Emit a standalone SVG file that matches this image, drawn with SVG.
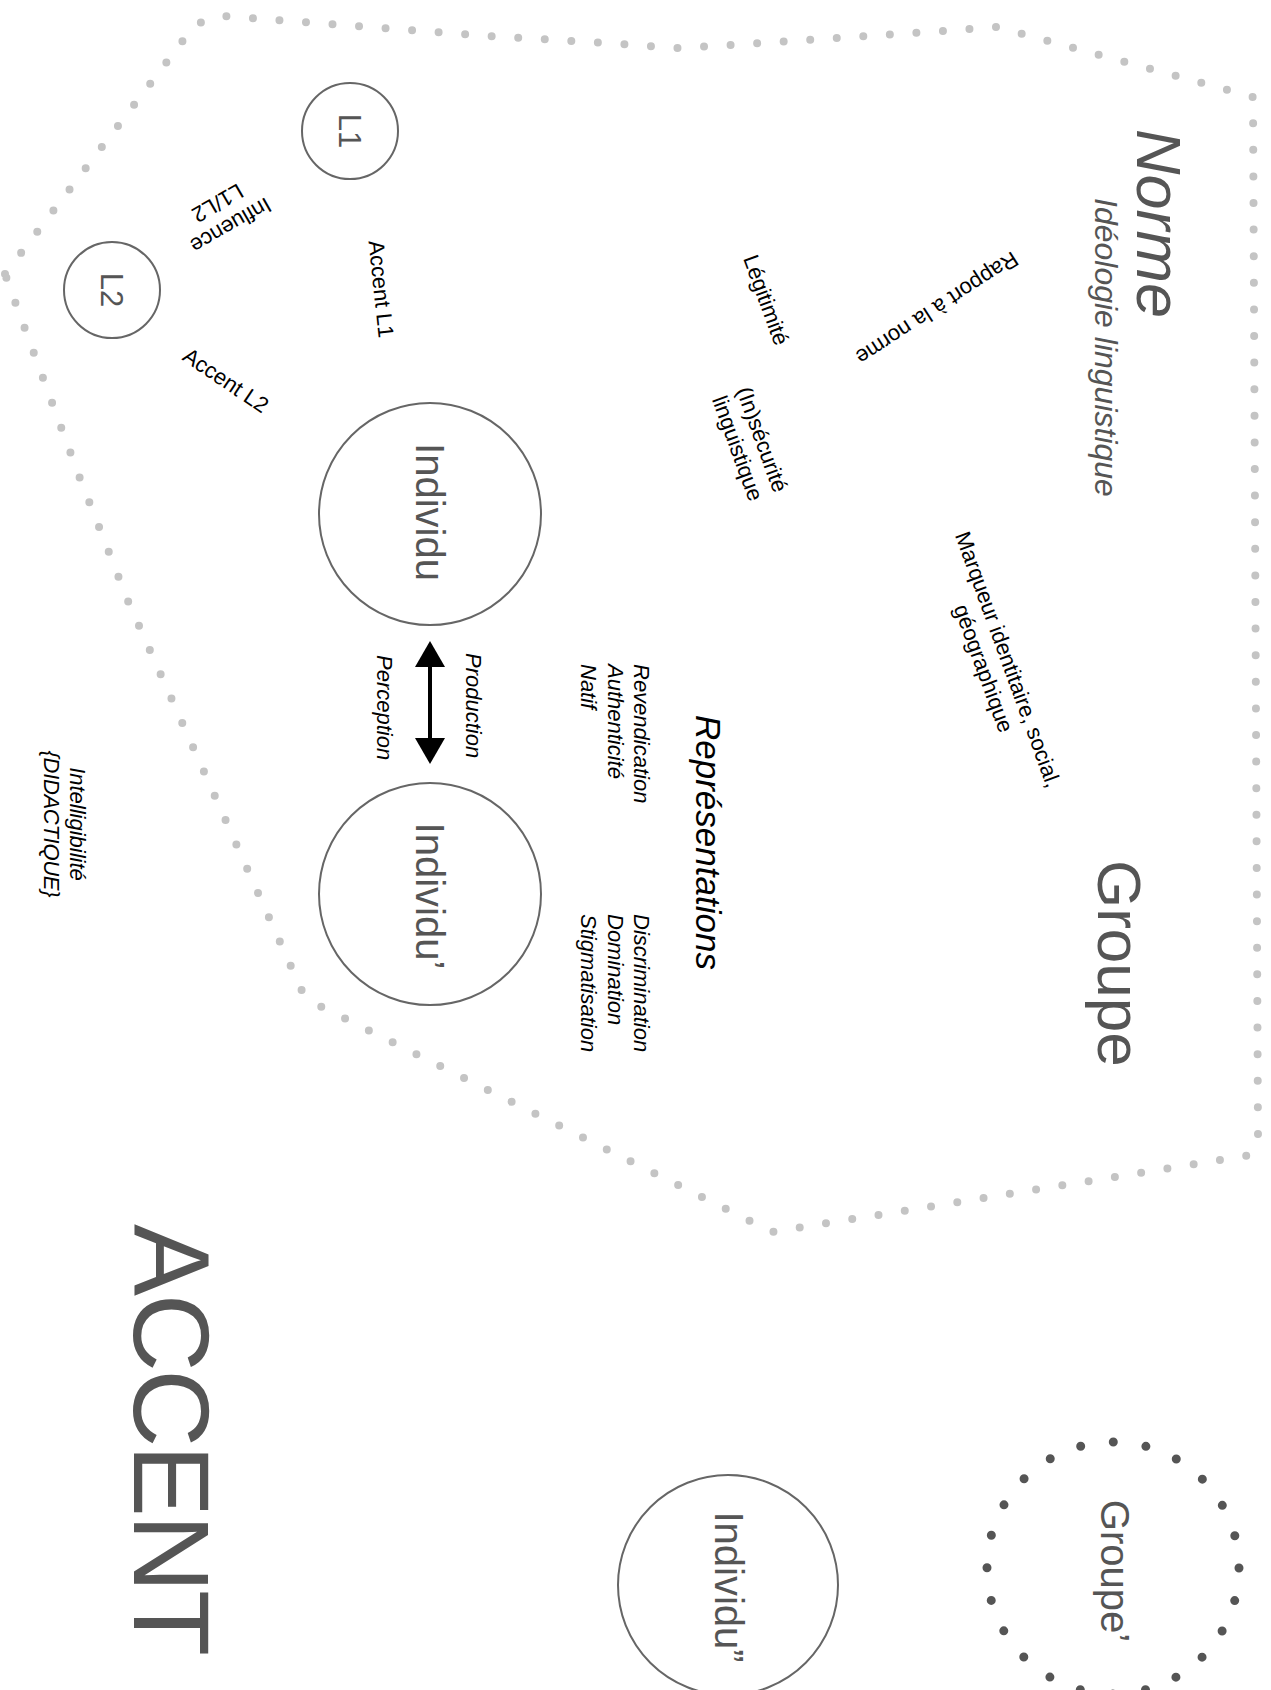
<svg xmlns="http://www.w3.org/2000/svg" width="1271" height="1690" viewBox="0 0 1271 1690">
<style>
text{font-family:"Liberation Sans",Arial,Helvetica,sans-serif}
.g{fill:#555}
.k{fill:#000}
.i{font-style:italic}
.s22{font-size:22px}
.n{fill:#fff;stroke:#666;stroke-width:2}
.m{text-anchor:middle}
</style>
<defs>
<marker id="ah" viewBox="0 0 26 30" refX="16" refY="15" markerWidth="26" markerHeight="30" markerUnits="userSpaceOnUse" orient="auto-start-reverse">
<path d="M0,0 L26,15 L0,30 Z" fill="#000"/>
</marker>
</defs>
<rect width="1271" height="1690" fill="#fff"/>

<g id="blob">
<path d="M5,274 L182,42 Q196,18 223,16 L356,26 L489,36 L622,44 L676,48 L730,45 L836,38 L943,31 L997,27 L1253,97 L1258,1137 Q1257,1153 1245,1156 L772,1232 L312,1002 Q304,998 302,991 L258,893 L128,601 L79,476 L14,299 Z" fill="none" stroke="#c4c4c4" stroke-width="8" stroke-linecap="round" stroke-dasharray="0 26.6"/>
</g>

<g id="titles">
<text class="g i" font-size="63" x="1137" y="129" transform="rotate(90 1137 129)">Norme</text>
<text class="g i" font-size="32" x="1095" y="198" transform="rotate(90 1095 198)">Idéologie linguistique</text>
<text class="g" font-size="62" x="1098" y="860" transform="rotate(90 1098 860)">Groupe</text>
<text class="g" font-size="108" x="134" y="1224" textLength="432" transform="rotate(90 134 1224)">ACCENT</text>
</g>

<g id="L1">
<circle class="n" cx="350" cy="131" r="48"/>
<text class="g m" font-size="31" x="339" y="131" transform="rotate(90 339 131)">L1</text>
</g>
<g id="L2">
<circle class="n" cx="112" cy="290" r="48"/>
<text class="g m" font-size="31" x="101" y="290" transform="rotate(90 101 290)">L2</text>
</g>
<g id="individu">
<circle class="n" cx="430" cy="514" r="111"/>
<text class="g m" font-size="40" x="416" y="512" transform="rotate(90 416 512)">Individu</text>
</g>
<g id="individu2">
<circle class="n" cx="430" cy="894" r="111"/>
<text class="g m" font-size="40" x="416" y="896" transform="rotate(90 416 896)">Individu’</text>
</g>
<g id="individu3">
<circle class="n" cx="728" cy="1585" r="110"/>
<text class="g m" font-size="40" x="715" y="1587" transform="rotate(90 715 1587)">Individu”</text>
</g>
<g id="groupe2">
<circle cx="1113" cy="1568" r="126" fill="none" stroke="#555" stroke-width="9" stroke-linecap="round" stroke-dasharray="0 32.99"/>
<text class="g m" font-size="40" x="1101" y="1571" transform="rotate(90 1101 1571)">Groupe’</text>
</g>

<g id="connectors">
<line x1="430" y1="651" x2="430" y2="754" stroke="#000" stroke-width="4" marker-start="url(#ah)" marker-end="url(#ah)"/>
</g>

<g id="labels">
<g transform="translate(227,219) rotate(150)"><text class="k s22 m" x="0" y="0">Influence</text><text class="k s22 m" x="0" y="26">L1/L2</text></g>
<g transform="translate(373.6,289.8) rotate(84)"><text class="k s22 m" x="0" y="0">Accent L1</text></g>
<g transform="translate(221.7,386.6) rotate(34)"><text class="k s22 m" x="0" y="0">Accent L2</text></g>
<g transform="translate(759,302.5) rotate(70)"><text class="k s22 m" x="0" y="0">Légitimité</text></g>
<g transform="translate(933,302) rotate(147)"><text class="k s22 m" x="0" y="0">Rapport à la norme</text></g>
<g transform="translate(755,442) rotate(70)"><text class="k s22 m" x="0" y="0">(In)sécurité</text><text class="k s22 m" x="0" y="26">linguistique</text></g>
<g transform="translate(1001,662) rotate(70)"><text class="k s22 m" x="0" y="0">Marqueur identitaire, social,</text><text class="k s22 m" x="0" y="26">géographique</text></g>
<text class="k i" font-size="35" x="696" y="715" transform="rotate(90 696 715)">Représentations</text>
<text class="k i s22" x="634" y="664" transform="rotate(90 634 664)">Revendication</text>
<text class="k i s22" x="607.5" y="664" transform="rotate(90 607.5 664)">Authenticité</text>
<text class="k i s22" x="581" y="664" transform="rotate(90 581 664)">Natif</text>
<text class="k i s22" x="634" y="914" transform="rotate(90 634 914)">Discrimination</text>
<text class="k i s22" x="607.5" y="914" transform="rotate(90 607.5 914)">Domination</text>
<text class="k i s22" x="581" y="914" transform="rotate(90 581 914)">Stigmatisation</text>
<text class="k i s22" x="466" y="653" transform="rotate(90 466 653)">Production</text>
<text class="k i s22" x="377" y="655" transform="rotate(90 377 655)">Perception</text>
<text class="k i s22 m" x="70" y="824" transform="rotate(90 70 824)">Intelligibilité</text>
<text class="k i s22 m" x="44" y="824" textLength="147" transform="rotate(90 44 824)">{DIDACTIQUE}</text>
</g>
</svg>
